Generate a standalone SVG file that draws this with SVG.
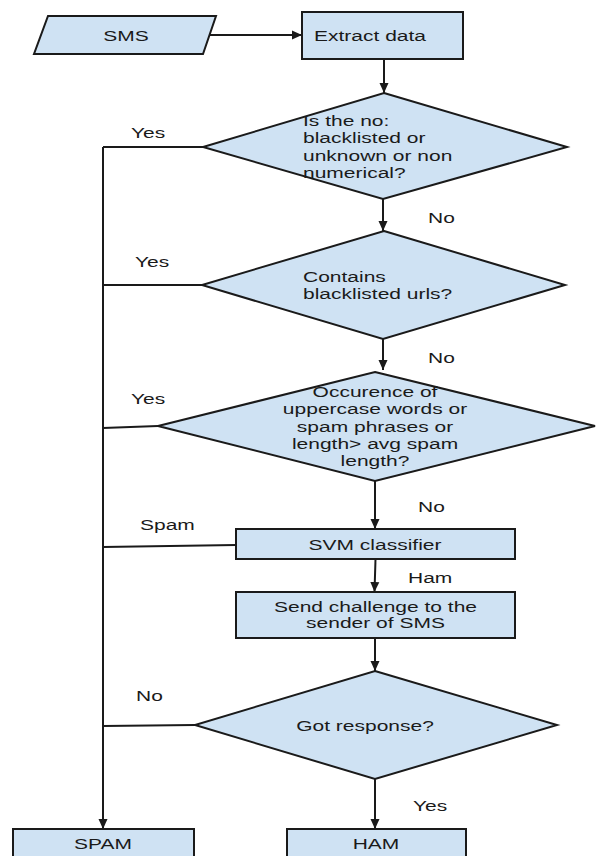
<svg xmlns="http://www.w3.org/2000/svg" width="596" height="856" viewBox="0 0 596 856">
<style>
.n{fill:#cfe2f3;stroke:#1a1a1a;stroke-width:2;stroke-linejoin:miter}
.t{font-family:"Liberation Sans",Arial,sans-serif;font-size:15px;fill:#1a1a1a}
.c{fill:none;stroke:#1a1a1a;stroke-width:2}
.a{marker-end:url(#ah)}
</style>
<defs>
<marker id="ah" markerWidth="10" markerHeight="10" viewBox="0 0 10 10" refX="10" refY="5" orient="auto" markerUnits="userSpaceOnUse">
<path d="M0,0.5 L10,5 L0,9.5 Z" fill="#1a1a1a"/>
</marker>
</defs>
<rect width="596" height="856" fill="#fff"/>
<g id="connectors">
<line class="c a" x1="210" y1="35" x2="302" y2="35"/>
<line class="c a" x1="384" y1="59" x2="384" y2="93"/>
<polyline class="c" points="203,147 103,147"/>
<line class="c a" x1="103" y1="147" x2="103" y2="829"/>
<line class="c a" x1="383" y1="199" x2="383" y2="231"/>
<line class="c" x1="202" y1="285" x2="103" y2="285"/>
<line class="c a" x1="383" y1="339" x2="383" y2="370"/>
<line class="c" x1="158" y1="426" x2="103" y2="428"/>
<line class="c a" x1="375" y1="481" x2="375" y2="529"/>
<line class="c" x1="236" y1="545" x2="103" y2="547"/>
<line class="c a" x1="375.5" y1="559" x2="374.5" y2="592"/>
<line class="c a" x1="375" y1="638" x2="375" y2="671"/>
<line class="c" x1="195" y1="725" x2="103" y2="726"/>
<line class="c a" x1="375" y1="779" x2="375" y2="829"/>
<g class="t">
<text transform="translate(131 0) scale(1.4 1)" y="138">Yes</text>
<text transform="translate(428 0) scale(1.4 1)" y="223">No</text>
<text transform="translate(135 0) scale(1.4 1)" y="267">Yes</text>
<text transform="translate(428 0) scale(1.4 1)" y="363">No</text>
<text transform="translate(131 0) scale(1.4 1)" y="404">Yes</text>
<text transform="translate(418 0) scale(1.4 1)" y="512">No</text>
<text transform="translate(140 0) scale(1.4 1)" y="530">Spam</text>
<text transform="translate(408 0) scale(1.4 1)" y="583">Ham</text>
<text transform="translate(136 0) scale(1.4 1)" y="701">No</text>
<text transform="translate(413 0) scale(1.4 1)" y="811">Yes</text>
</g>
</g>
<g id="sms">
<polygon class="n" points="48,16 216,16 203,54 34,54"/>
<text class="t" transform="translate(126 0) scale(1.4 1)" y="41.5" text-anchor="middle">SMS</text>
</g>
<g id="extract">
<rect class="n" x="302" y="12" width="161" height="47"/>
<text class="t" transform="translate(314 0) scale(1.4 1)" y="41">Extract data</text>
</g>
<g id="d1">
<polygon class="n" points="384,93 567,147 383,199 203,147"/>
<text class="t" transform="translate(303 0) scale(1.4 1)"><tspan x="0" y="126">Is the no:</tspan><tspan x="0" y="143.5">blacklisted or</tspan><tspan x="0" y="161">unknown or non</tspan><tspan x="0" y="178">numerical?</tspan></text>
</g>
<g id="d2">
<polygon class="n" points="384,231 565,285 383,339 202,285"/>
<text class="t" transform="translate(303 0) scale(1.4 1)"><tspan x="0" y="282">Contains</tspan><tspan x="0" y="299">blacklisted urls?</tspan></text>
</g>
<g id="d3">
<polygon class="n" points="375,372 595,426 375,481 158,426"/>
<text class="t" transform="translate(375 0) scale(1.4 1)" text-anchor="middle"><tspan x="0" y="397">Occurence of</tspan><tspan x="0" y="414.3">uppercase words or</tspan><tspan x="0" y="431.7">spam phrases or</tspan><tspan x="0" y="449">length&gt; avg spam</tspan><tspan x="0" y="466.3">length?</tspan></text>
</g>
<g id="svm">
<rect class="n" x="236" y="529" width="279" height="30"/>
<text class="t" transform="translate(375 0) scale(1.4 1)" y="550.5" text-anchor="middle">SVM classifier</text>
</g>
<g id="challenge">
<rect class="n" x="236" y="592" width="279" height="46"/>
<text class="t" transform="translate(375.5 0) scale(1.4 1)" text-anchor="middle"><tspan x="0" y="611.7">Send challenge to the</tspan><tspan x="0" y="628.3">sender of SMS</tspan></text>
</g>
<g id="d4">
<polygon class="n" points="375,671 557,725 375,779 195,725"/>
<text class="t" transform="translate(365 0) scale(1.4 1)" y="731" text-anchor="middle">Got response?</text>
</g>
<g id="spam">
<rect class="n" x="13" y="829" width="181" height="40"/>
<text class="t" transform="translate(103 0) scale(1.4 1)" y="849" text-anchor="middle">SPAM</text>
</g>
<g id="ham">
<rect class="n" x="287" y="829" width="179" height="40"/>
<text class="t" transform="translate(376 0) scale(1.4 1)" y="849" text-anchor="middle">HAM</text>
</g>
</svg>
